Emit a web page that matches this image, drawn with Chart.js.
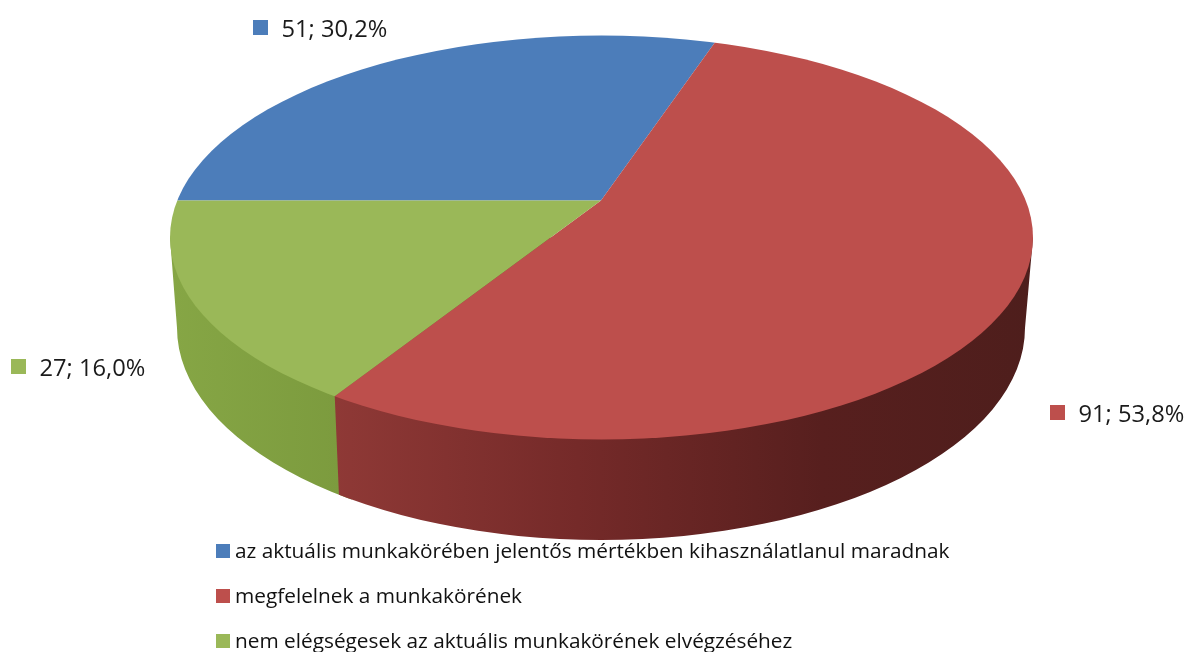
<!DOCTYPE html>
<html><head><meta charset="utf-8">
<style>html,body{margin:0;padding:0;background:#fff}canvas{display:block}</style>
<script src="https://cdn.jsdelivr.net/npm/chart.js@4"></script></head>
<body><canvas id="c" width="1187" height="652"></canvas>
<script>
const categories = ['az aktuális munkakörében jelentős mértékben kihasználatlanul maradnak','megfelelnek a munkakörének','nem elégségesek az aktuális munkakörének elvégzéséhez'];
const values = [51, 91, 27];
const percents = ['30,2%', '53,8%', '16,0%'];
const colors = ['#4c7dba', '#bd4f4c', '#9ab858'];

const TOP = {cx: 601.5, cy: 237.5, rx: 431.5, ry: 202};
const LOW = {cx: 601, cy: 328, rx: 424, ry: 212};
const APEX = {x: 601, y: 200.5};
const LABEL_POS = [{x: 253, y: 20}, {x: 1050, y: 405}, {x: 11, y: 359}];
const LEGEND_POS = [{x: 216, y: 544}, {x: 216, y: 589}, {x: 216, y: 634}];

function rimPoint(angle) {
  const s = TOP.ry / TOP.rx, dx = Math.cos(angle), dy = Math.sin(angle) * s;
  const ox = APEX.x - TOP.cx, oy = APEX.y - TOP.cy;
  const a = dx*dx/(TOP.rx*TOP.rx) + dy*dy/(TOP.ry*TOP.ry);
  const b = 2*(ox*dx/(TOP.rx*TOP.rx) + oy*dy/(TOP.ry*TOP.ry));
  const c = ox*ox/(TOP.rx*TOP.rx) + oy*oy/(TOP.ry*TOP.ry) - 1;
  const t = (-b + Math.sqrt(b*b - 4*a*c)) / (2*a);
  return {x: APEX.x + t*dx, y: APEX.y + t*dy};
}

const pie3d = {
  id: 'pie3d',
  beforeDatasetsDraw(chart) {
    const ctx = chart.ctx, arcs = chart.getDatasetMeta(0).data;
    const rim = rimPoint(arcs[1].endAngle);
    const lowX = rim.x + 7;
    ctx.save();
    ctx.beginPath();
    ctx.moveTo(TOP.cx - TOP.rx, TOP.cy);
    ctx.lineTo(LOW.cx - LOW.rx, LOW.cy);
    ctx.ellipse(LOW.cx, LOW.cy, LOW.rx, LOW.ry, 0, Math.PI, 0, true);
    ctx.lineTo(TOP.cx + TOP.rx, TOP.cy);
    ctx.closePath();
    ctx.clip();
    const gG = ctx.createLinearGradient(170, 0, 340, 0);
    gG.addColorStop(0, '#86a645'); gG.addColorStop(1, '#7c9b3e');
    ctx.fillStyle = gG;
    ctx.fillRect(160, 200, lowX + 10 - 160, 400);
    const gR = ctx.createLinearGradient(332, 0, 1033, 0);
    gR.addColorStop(0, '#8f3936'); gR.addColorStop(0.35, '#752a29');
    gR.addColorStop(0.7, '#571f1e'); gR.addColorStop(1, '#4e1e1c');
    ctx.fillStyle = gR;
    ctx.beginPath();
    ctx.moveTo(rim.x, rim.y); ctx.lineTo(lowX, 560); ctx.lineTo(1100, 560); ctx.lineTo(1100, 200); ctx.lineTo(rim.x, 200);
    ctx.closePath(); ctx.fill();
    ctx.restore();

    const c = arcs[0], k = 2.6, s = TOP.ry / TOP.rx;
    ctx.save();
    ctx.beginPath();
    ctx.ellipse(TOP.cx, TOP.cy, TOP.rx, TOP.ry, 0, 0, Math.PI * 2);
    ctx.clip();
    ctx.translate(APEX.x, APEX.y);
    ctx.scale(k, k * s);
    ctx.translate(-c.x, -c.y);
  },
  afterDatasetsDraw(chart) {
    const ctx = chart.ctx;
    ctx.restore();
    ctx.textBaseline = 'alphabetic';
    ctx.textAlign = 'left';
    values.forEach((v, i) => {
      const p = LABEL_POS[i];
      ctx.fillStyle = colors[i];
      ctx.fillRect(p.x, p.y, 15, 15);
      ctx.fillStyle = '#1a1a1a';
      ctx.font = '23.7px "Open Sans"';
      ctx.fillText(v + '; ' + percents[i], p.x + 28.5, p.y + 17);
    });
    categories.forEach((t, i) => {
      const p = LEGEND_POS[i];
      ctx.fillStyle = colors[i];
      ctx.fillRect(p.x, p.y, 14, 14);
      ctx.fillStyle = '#111';
      ctx.font = '500 20.8px "Open Sans"';
      ctx.fillText(t, p.x + 19, p.y + 14);
    });
  }
};

new Chart(document.getElementById('c'), {
  type: 'pie',
  data: {labels: categories, datasets: [{data: values, backgroundColor: colors, borderWidth: 0}]},
  options: {
    responsive: false, animation: false, rotation: 270,
    plugins: {legend: {display: false}, tooltip: {enabled: false}}
  },
  plugins: [pie3d]
});
</script></body></html>
